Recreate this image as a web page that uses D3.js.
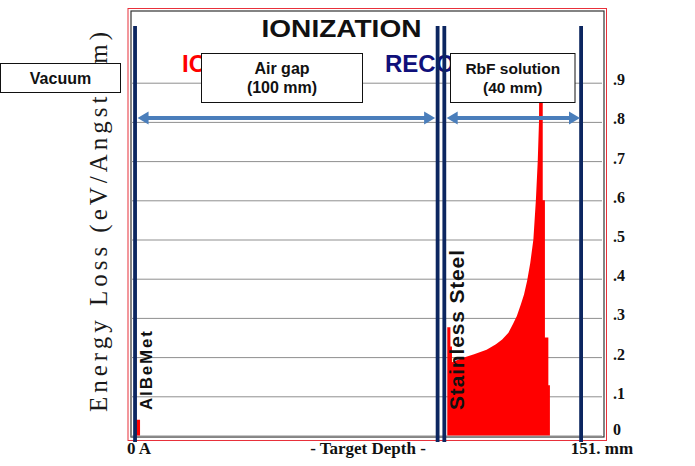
<!DOCTYPE html>
<html><head><meta charset="utf-8">
<script src="https://cdn.jsdelivr.net/npm/d3@7"></script>
<style>body{margin:0;background:#fff;overflow:hidden}</style>
</head><body><svg id="c" width="695" height="466"></svg>
<script>
// ---- data ----
const yTickValues = [0.9, 0.8, 0.7, 0.6, 0.5, 0.4, 0.3, 0.2, 0.1, 0];
const yTickLabels = [".9", ".8", ".7", ".6", ".5", ".4", ".3", ".2", ".1", "0"];
const xDomainMm = [0, 151];
const xLeftLabel = "0 A";
const xMidLabel = "- Target Depth -";
const xRightLabel = "151. mm";
const yTitle = "Energy Loss (eV/Angstrom)";
const title = "IONIZATION";
const legendNames = ["IONS", "RECOILS"];
// ionization histogram (depth in mm, energy loss eV/Angstrom)
const depthMm =    [1.5, 1.5,  2.9,  2.9, 101.4, 101.4, 102.4, 102.4, 102.9, 102.9, 106,   110,   114,   117,   119,   121,   122.5, 123.7, 125,   126,  127,   128,  129,  129.8, 130.4, 130.8, 130.9, 132.0, 132.0, 132.7, 132.7, 133.8, 133.8, 134.3, 134.3];
const energyLoss = [0,   0.04, 0.04, 0,   0,     0.276, 0.276, 0.227, 0.227, 0.187, 0.197, 0.207, 0.219, 0.233, 0.245, 0.262, 0.285, 0.305, 0.335, 0.36, 0.395, 0.44, 0.50, 0.60,  0.70,  0.80,  0.92,  0.92,  0.60,  0.60,  0.25,  0.25,  0.128, 0.128, 0];
// layer boundaries (mm)
const boundaryMm = [1.3, 98.3, 100.45, 144.3];
// dimension arrows (mm)
const arrowStartMm = [2.1, 101.2];
const arrowEndMm = [97.5, 143.95];
const layerNames = ["AlBeMet", "Stainless Steel"];
const boxTexts = [["Vacuum"], ["Air gap", "(100 mm)"], ["RbF solution", "(40 mm)"]];

// ---- drawing ----
const svg = d3.select("#c");
const defs = svg.append("defs");
defs.append("clipPath").attr("id", "clipIons").append("rect").attr("x", 0).attr("y", 0).attr("width", 201).attr("height", 466);
defs.append("clipPath").attr("id", "clipRec").append("rect").attr("x", 0).attr("y", 0).attr("width", 450).attr("height", 466);

const x = d3.scaleLinear().domain(xDomainMm).range([131, 602]);
const y = d3.scaleLinear().domain([0, 1]).range([435.5, 43.5]);
const sans = "Liberation Sans, Arial, sans-serif";
const serif = "Liberation Serif, serif";

// frames
svg.append("rect").attr("x", 128).attr("y", 8.5).attr("width", 478.5).attr("height", 432)
  .attr("fill", "none").attr("stroke", "#e8303a").attr("stroke-width", 1);
svg.append("rect").attr("x", 131).attr("y", 11).attr("width", 473).attr("height", 426)
  .attr("fill", "none").attr("stroke", "#333").attr("stroke-width", 1.2);

// y axis on right with gridlines
const yAxis = d3.axisRight(y).tickValues(yTickValues)
  .tickFormat((d, i) => yTickLabels[i]).tickSize(-(602 - 131)).tickPadding(11);
const ga = svg.append("g").attr("transform", "translate(602,0)").call(yAxis);
ga.select(".domain").remove();
ga.selectAll(".tick line").attr("stroke", "#8f8f8f").attr("stroke-width", 1);
ga.selectAll(".tick text").attr("font-family", serif).attr("font-weight", "bold")
  .attr("font-size", 16).attr("fill", "#111").attr("dy", d => d === 0 ? "-0.05em" : "0.12em");

// histogram
const pts = depthMm.map((d, i) => [d, energyLoss[i]]);
const area = d3.area().x(d => x(d[0])).y0(y(0)).y1(d => y(d[1])).curve(d3.curveLinear);
svg.append("path").datum(pts).attr("d", area).attr("fill", "#ff0000");

// title
svg.append("text").attr("x", 341.5).attr("y", 37).attr("text-anchor", "middle")
  .attr("font-family", sans).attr("font-weight", "bold")
  .attr("font-size", 24).attr("textLength", 160).attr("lengthAdjust", "spacingAndGlyphs")
  .attr("fill", "#111").text(title);
// legend (mostly hidden behind boxes)
svg.append("text").attr("x", 182).attr("y", 72).attr("font-family", sans).attr("clip-path", "url(#clipIons)")
  .attr("font-weight", "bold").attr("font-size", 24).attr("fill", "#ff0000").text(legendNames[0]);
svg.append("text").attr("x", 385).attr("y", 72).attr("font-family", sans).attr("clip-path", "url(#clipRec)")
  .attr("font-weight", "bold").attr("font-size", 24).attr("fill", "#10107a").text(legendNames[1]);

// layer names
const layerBaseX = [152, 463.5];
const layerFont = [17, 21];
const layerLen = [79, 160];
layerNames.forEach((n, i) => {
  svg.append("text").attr("transform", `translate(${layerBaseX[i]},410) rotate(-90)`)
    .attr("font-family", sans).attr("font-weight", "bold")
    .attr("font-size", layerFont[i]).attr("textLength", layerLen[i]).attr("lengthAdjust", "spacing")
    .attr("fill", "#111").text(n);
});

// boundary lines
svg.selectAll("line.bnd").data(boundaryMm).join("line").attr("class", "bnd")
  .attr("x1", d => x(d)).attr("x2", d => x(d)).attr("y1", 26).attr("y2", 442)
  .attr("stroke", "#0c2660").attr("stroke-width", 3.8);

// arrows
const ay = 118, hl = 11, hw = 6.5, ac = "#4a7ebb";
arrowStartMm.forEach((s, i) => {
  const x1 = x(s), x2 = x(arrowEndMm[i]);
  svg.append("line").attr("x1", x1 + hl - 1).attr("x2", x2 - hl + 1).attr("y1", ay).attr("y2", ay)
    .attr("stroke", ac).attr("stroke-width", 4);
  svg.append("path").attr("d", `M${x1},${ay}L${x1 + hl},${ay - hw}L${x1 + hl},${ay + hw}Z`).attr("fill", ac);
  svg.append("path").attr("d", `M${x2},${ay}L${x2 - hl},${ay - hw}L${x2 - hl},${ay + hw}Z`).attr("fill", ac);
});

// y title
svg.append("text").attr("transform", "translate(107,412) rotate(-90)")
  .attr("font-family", serif).attr("font-size", 25)
  .attr("textLength", 380).attr("lengthAdjust", "spacing").attr("fill", "#1a1a1a").text(yTitle);

// boxes
const boxes = [{x: 0.5, y: 63.5, w: 120, h: 29, ty: [83.5], fs: 16},
               {x: 201.5, y: 53.5, w: 161, h: 49, ty: [74, 92.5], fs: 16},
               {x: 450.5, y: 53.5, w: 124.5, h: 49, ty: [74, 92.5], fs: 15.5}];
boxes.forEach((b, i) => {
  svg.append("rect").attr("x", b.x).attr("y", b.y).attr("width", b.w).attr("height", b.h)
    .attr("fill", "#fff").attr("stroke", "#111").attr("stroke-width", 1);
  boxTexts[i].forEach((t, j) => {
    svg.append("text").attr("x", b.x + b.w / 2).attr("y", b.ty[j]).attr("text-anchor", "middle")
      .attr("font-family", sans).attr("font-weight", "bold")
      .attr("font-size", b.fs).attr("fill", "#111").text(t);
  });
});

// x labels
function xl(tx, px, anchor) {
  svg.append("text").attr("x", px).attr("y", 454).attr("text-anchor", anchor)
    .attr("font-family", serif).attr("font-weight", "bold").attr("font-size", 17).attr("fill", "#111")
    .text(tx);
}
xl(xLeftLabel, x(xDomainMm[0]) - 4, "start");
xl(xMidLabel, 368, "middle");
xl(xRightLabel, x(xDomainMm[1]), "middle");
</script></body></html>
